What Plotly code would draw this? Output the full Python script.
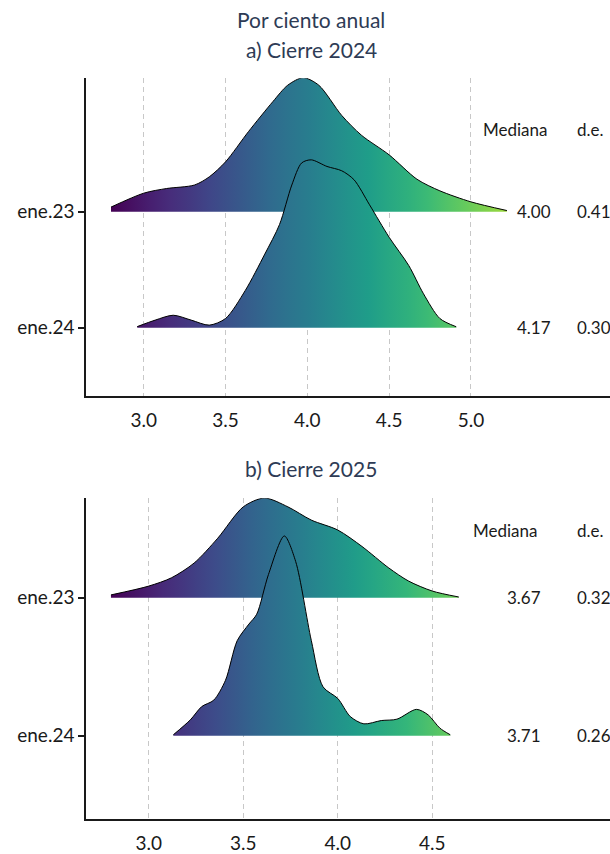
import plotly.graph_objects as go
from plotly.colors import sample_colorscale

W, H = 610, 854
LEFT = 86

categories = ["ene.24", "ene.23"]

# panel a) Cierre 2024 -- density outlines (x, ridge height)
a23_x = [2.80, 3.00, 3.14, 3.31, 3.40, 3.50, 3.64, 3.79, 3.88, 3.975, 4.07, 4.21, 4.33, 4.50, 4.67, 4.81, 5.00, 5.22]
a23_h = [0.04, 0.16, 0.20, 0.23, 0.30, 0.43, 0.69, 0.95, 1.09, 1.155, 1.09, 0.83, 0.66, 0.49, 0.28, 0.18, 0.085, 0.01]
a24_x = [2.96, 3.07, 3.18, 3.29, 3.40, 3.50, 3.62, 3.74, 3.83, 3.905, 3.965, 4.024, 4.12, 4.21, 4.285, 4.38, 4.50, 4.62, 4.71, 4.81, 4.91]
a24_h = [0.01, 0.066, 0.108, 0.066, 0.023, 0.08, 0.32, 0.635, 0.89, 1.23, 1.42, 1.447, 1.39, 1.353, 1.276, 1.06, 0.78, 0.536, 0.293, 0.08, 0.009]

# panel b) Cierre 2025
b23_x = [2.80, 3.00, 3.12, 3.24, 3.365, 3.50, 3.612, 3.736, 3.86, 4.00, 4.128, 4.27, 4.375, 4.50, 4.64]
b23_h = [0.02, 0.084, 0.144, 0.251, 0.431, 0.658, 0.722, 0.658, 0.562, 0.49, 0.371, 0.215, 0.12, 0.048, 0.005]
b24_x = [3.13, 3.22, 3.28, 3.344, 3.406, 3.468, 3.53, 3.571, 3.633, 3.717, 3.777, 3.86, 3.922, 4.00, 4.066, 4.138, 4.23, 4.313, 4.416, 4.478, 4.54, 4.595]
b24_h = [0.007, 0.115, 0.211, 0.258, 0.402, 0.689, 0.809, 0.88, 1.167, 1.447, 1.263, 0.689, 0.354, 0.27, 0.139, 0.086, 0.11, 0.12, 0.191, 0.151, 0.055, 0.007]

medians_a = ["4.00", "4.17"]
sd_a = ["0.41", "0.30"]
medians_b = ["3.67", "3.71"]
sd_b = ["0.32", "0.26"]

ticks_a = [3.0, 3.5, 4.0, 4.5, 5.0]
ticks_b = [3.0, 3.5, 4.0, 4.5]

FONT = "Lato"
TITLE_COLOR = "#2e3b55"
TEXT_COLOR = "#1a1a1a"


def viridis_scale(end):
    pos = [i / 20 for i in range(21)]
    cols = sample_colorscale("Viridis", [p * end for p in pos])
    return [[p, c] for p, c in zip(pos, cols)]


def px_x(px):
    return (px - LEFT) / (W - LEFT)


def px_y(py):
    return 1 - py / H


fig = go.Figure()


def add_ridge(xs, hs, base, xa, ya, g_start, g_stop, scale):
    # invisible baseline, then the outline filled down to it
    fig.add_trace(go.Scatter(
        x=[xs[0], xs[-1]], y=[base, base], mode="lines",
        line=dict(width=0), xaxis=xa, yaxis=ya, hoverinfo="skip", showlegend=False,
    ))
    fig.add_trace(go.Scatter(
        x=xs, y=[base + h for h in hs], mode="lines",
        line=dict(color="black", width=1, shape="spline", smoothing=0.8),
        fill="tonexty",
        fillgradient=dict(type="horizontal", colorscale=scale, start=g_start, stop=g_stop),
        xaxis=xa, yaxis=ya, showlegend=False,
    ))


scale_a = viridis_scale(0.85)
scale_b = viridis_scale(0.78)

add_ridge(a23_x, a23_h, 2, "x", "y", 2.80, 5.22, scale_a)
add_ridge(a24_x, a24_h, 1, "x", "y", 2.80, 5.22, scale_a)
add_ridge(b23_x, b23_h, 2, "x2", "y2", 2.80, 4.64, scale_b)
add_ridge(b24_x, b24_h, 1, "x2", "y2", 2.80, 4.64, scale_b)

xaxis_common = dict(
    showline=True, linecolor=TEXT_COLOR, linewidth=1.5,
    showgrid=True, gridcolor="#c8c8c8", gridwidth=1, griddash="5px,4px",
    ticks="", zeroline=False, ticklabelstandoff=6,
    tickfont=dict(family=FONT, size=19, color=TEXT_COLOR),
    tickformat=".1f",
)
yaxis_common = dict(
    showline=True, linecolor=TEXT_COLOR, linewidth=1.5,
    showgrid=False, zeroline=False,
    ticks="outside", ticklen=6, tickwidth=1.5, tickcolor=TEXT_COLOR,
    tickvals=[1, 2], ticktext=categories,
    tickfont=dict(family=FONT, size=19, color=TEXT_COLOR),
)

fig.update_layout(
    width=W, height=H,
    margin=dict(l=LEFT, r=0, t=0, b=0),
    paper_bgcolor="white", plot_bgcolor="white",
    xaxis=dict(xaxis_common, domain=[0, 1], anchor="y", range=[2.647, 5.85], tickvals=ticks_a),
    yaxis=dict(yaxis_common, domain=[px_y(400), px_y(79)], anchor="x", range=[0.41, 3.15]),
    xaxis2=dict(xaxis_common, domain=[0, 1], anchor="y2", range=[2.668, 5.44], tickvals=ticks_b),
    yaxis2=dict(yaxis_common, domain=[px_y(827), px_y(503)], anchor="x2", range=[0.395, 2.72]),
)

titles = [("Por ciento anual", 20), ("a) Cierre 2024", 50), ("b) Cierre 2025", 473)]
for text, py in titles:
    fig.add_annotation(
        xref="paper", yref="paper", x=px_x(311), y=px_y(py), text=text,
        showarrow=False, xanchor="center", yanchor="middle",
        font=dict(family=FONT, size=21, color=TITLE_COLOR),
    )


def add_stats(ya, rows_y, head_y, col_med, col_sd, medians, sds):
    f = dict(family=FONT, size=17, color=TEXT_COLOR)
    fig.add_annotation(xref="paper", yref=ya, x=px_x(col_med[0]), y=head_y, text="Mediana",
                       showarrow=False, xanchor="center", yanchor="middle", font=f)
    fig.add_annotation(xref="paper", yref=ya, x=px_x(col_sd), y=head_y, text="d.e.",
                       showarrow=False, xanchor="left", yanchor="middle", font=f)
    for yv, m, s in zip(rows_y, medians, sds):
        fig.add_annotation(xref="paper", yref=ya, x=px_x(col_med[1]), y=yv, text=m,
                           showarrow=False, xanchor="right", yanchor="middle", font=f)
        fig.add_annotation(xref="paper", yref=ya, x=px_x(col_sd), y=yv, text=s,
                           showarrow=False, xanchor="left", yanchor="middle", font=f)


# header rows sit above the top ridge baseline
add_stats("y", [2, 1], 2 + (214 - 131) / 117.2, (515, 553), 575, medians_a, sd_a)
add_stats("y2", [2, 1], 2 + (603 - 535) / 139.4, (505, 543), 575, medians_b, sd_b)

fig.write_html(
    "out.html",
    config={"displayModeBar": False},
    post_script="document.body.style.margin='0';",
)
